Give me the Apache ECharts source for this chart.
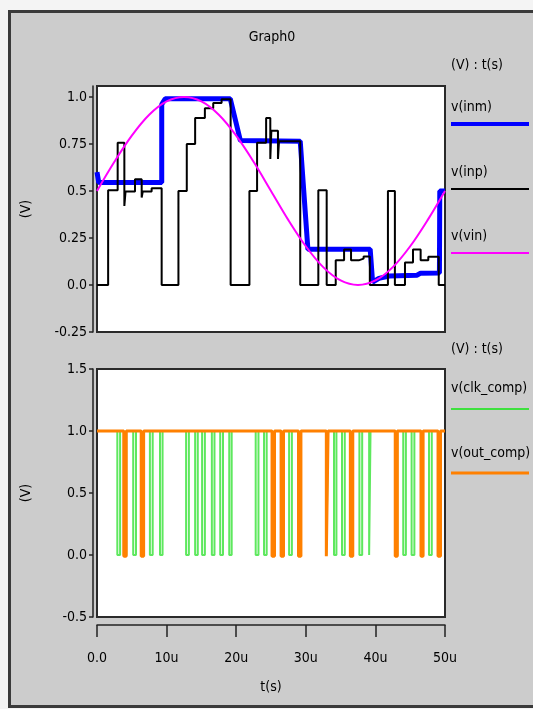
<!DOCTYPE html>
<html><head><meta charset="utf-8">
<script src="https://cdn.jsdelivr.net/npm/echarts@6/dist/echarts.min.js"></script>
<style>
html,body{margin:0;padding:0;background:#f4f4f4;overflow:hidden;width:533px;height:709px;}
#frame{position:absolute;left:8px;top:10px;width:540px;height:698px;background:#cccccc;border:3px solid #3a3a3a;box-sizing:border-box;}
#c{position:absolute;left:0;top:0;width:533px;height:709px;}
</style>
</head><body><div id="frame"></div><div id="c"></div>
<script>
// ---- data (time in microseconds) ----
const xTickValues = [0, 10, 20, 30, 40, 50];
const xTickLabels = ['0.0', '10u', '20u', '30u', '40u', '50u'];
const topYTickValues = [-0.25, 0, 0.25, 0.5, 0.75, 1.0];
const topYTickLabels = ['-0.25', '0.0', '0.25', '0.5', '0.75', '1.0'];
const botYTickValues = [-0.5, 0, 0.5, 1.0, 1.5];
const botYTickLabels = ['-0.5', '0.0', '0.5', '1.0', '1.5'];

// v(inm)
const inmT = [0, 0.25, 9.3, 9.3, 9.8, 19.15, 20.6, 29.2, 30.3, 39.25, 39.6, 40.5, 42, 46, 46.5, 49.2, 49.25, 50];
const inmV = [0.6, 0.545, 0.545, 0.96, 0.99, 0.99, 0.768, 0.764, 0.19, 0.19, 0.015, 0.035, 0.048, 0.052, 0.063, 0.064, 0.5, 0.5];

// v(inp)
const inpT = [0, 1.6, 1.6, 2.97, 2.97, 3.93, 3.93, 4.1, 4.1, 5.46, 5.46, 6.42, 6.42, 6.57, 6.57, 7.85, 7.85, 9.29, 9.29,
  11.7, 11.7, 12.9, 12.9, 14.1, 14.1, 15.5, 15.5, 16.7, 16.7, 17.9, 17.9, 19.2, 19.2,
  21.9, 21.9, 23.0, 23.0, 24.3, 24.3, 24.9, 24.9, 25.05, 25.05, 26.0, 26.0, 26.15, 26.15, 29.2, 29.2,
  31.8, 31.8, 33.0, 33.0, 34.3, 34.3, 35.5, 35.5, 36.5, 36.5, 37.6, 37.6, 38.3, 38.3, 39.2, 39.2,
  41.8, 41.8, 42.8, 42.8, 44.25, 44.25, 45.4, 45.4, 46.5, 46.5, 47.6, 47.6, 49.1, 49.1, 50];
const inpV = [0, 0, 0.504, 0.504, 0.756, 0.756, 0.42, 0.42, 0.497, 0.497, 0.562, 0.562, 0.465, 0.465, 0.497, 0.497, 0.514, 0.514, 0,
  0, 0.5, 0.5, 0.75, 0.75, 0.888, 0.888, 0.94, 0.94, 0.967, 0.967, 0.988, 0.988, 0,
  0, 0.5, 0.5, 0.756, 0.756, 0.888, 0.888, 0.67, 0.67, 0.82, 0.82, 0.67, 0.67, 0.764, 0.764, 0,
  0, 0.504, 0.504, 0, 0, 0.131, 0.131, 0.189, 0.189, 0.131, 0.131, 0.14, 0.14, 0.152, 0.152, 0,
  0, 0.5, 0.5, 0, 0, 0.12, 0.12, 0.189, 0.189, 0.131, 0.131, 0.15, 0.15, 0, 0];

// v(vin)
const vinT = [0, 2.5, 5, 7.5, 10, 12.5, 15, 17.5, 20, 22.5, 25, 27.5, 30, 32.5, 35, 37.5, 40, 42.5, 45, 47.5, 50];
const vinV = [0.5, 0.655, 0.794, 0.905, 0.976, 1.0, 0.976, 0.905, 0.794, 0.655, 0.5, 0.345, 0.206, 0.095, 0.024, 0.0, 0.024, 0.095, 0.206, 0.345, 0.5];

// v(clk_comp): pulse falling / rising edges
const clkFall = [2.92, 3.85, 5.2, 6.35, 7.6, 9.05, 12.8, 14.1, 15.1, 16.5, 17.7, 19.0, 22.8, 24.0, 25.15, 26.45, 27.6, 28.95, 32.95, 34.05, 35.2, 36.4, 37.7, 39.1, 42.85, 44.0, 45.2, 46.55, 47.7, 49.0];
const clkRise = [3.32, 4.2, 5.6, 6.7, 8.0, 9.42, 13.2, 14.48, 15.5, 16.88, 18.1, 19.35, 23.2, 24.38, 25.5, 26.8, 28.0, 29.3, 33.2, 34.4, 35.6, 36.75, 38.1, 39.3, 43.15, 44.38, 45.6, 46.85, 48.1, 49.35];
const clkHigh = 1.0, clkLow = 0.0;

// v(out_comp): pulse falling / rising edges
const outFall = [3.85, 6.35, 25.15, 26.45, 28.95, 32.95, 36.4, 42.85, 46.55, 49.0];
const outRise = [4.2, 6.7, 25.5, 26.8, 29.3, 33.2, 36.75, 43.15, 46.85, 49.35];
const outHigh = 1.0, outLow = -0.01;

// ---- build helpers ----
function pairs(t, v) { return t.map((x, i) => [x, v[i]]); }
function pulses(fall, rise, hi, lo) {
  const d = [[0, hi]];
  fall.forEach((f, i) => { d.push([f, hi], [f, lo], [rise[i], lo], [rise[i], hi]); });
  d.push([50, hi]);
  return d;
}
function lookup(vals, labels) {
  return v => { for (let i = 0; i < vals.length; i++) if (Math.abs(vals[i] - v) < 1e-6) return labels[i]; return ''; };
}

const FONT = "'Liberation Sans Narrow','DejaVu Sans Condensed','Arial Narrow',sans-serif";
const txt = { color: '#000', fontFamily: FONT, fontSize: 14 };

const chart = echarts.init(document.getElementById('c'), null, { renderer: 'canvas' });
chart.setOption({
  animation: false,
  backgroundColor: 'transparent',
  grid: [
    { left: 97, top: 86, width: 348, height: 246, show: true, backgroundColor: '#fff', borderColor: '#2a2a2a', borderWidth: 2 },
    { left: 97, top: 369, width: 348, height: 248, show: true, backgroundColor: '#fff', borderColor: '#2a2a2a', borderWidth: 2 }
  ],
  xAxis: [
    { type: 'value', gridIndex: 0, min: 0, max: 50, interval: 10, show: false },
    { type: 'value', gridIndex: 1, min: 0, max: 50, interval: 10, offset: 8, position: 'bottom',
      axisLine: { show: true, onZero: false, lineStyle: { color: '#222', width: 1.5 } },
      axisTick: { show: true, length: 12, lineStyle: { color: '#222', width: 1.5 } },
      axisLabel: { ...txt, margin: 26, formatter: lookup(xTickValues, xTickLabels) },
      splitLine: { show: false },
      name: 't(s)', nameLocation: 'middle', nameGap: 55, nameTextStyle: { ...txt } }
  ],
  yAxis: [
    { type: 'value', gridIndex: 0, min: -0.25, max: 1.058, interval: 0.25, offset: 4,
      axisLine: { show: true, onZero: false, lineStyle: { color: '#222', width: 1.5 } },
      axisTick: { show: true, length: 4, lineStyle: { color: '#222', width: 1.5 } },
      axisLabel: { ...txt, margin: 6, showMaxLabel: false, formatter: lookup(topYTickValues, topYTickLabels) },
      splitLine: { show: false },
      name: '(V)', nameLocation: 'middle', nameGap: 60, nameRotate: 90, nameTextStyle: { ...txt } },
    { type: 'value', gridIndex: 1, min: -0.5, max: 1.5, interval: 0.5, offset: 4,
      axisLine: { show: true, onZero: false, lineStyle: { color: '#222', width: 1.5 } },
      axisTick: { show: true, length: 4, lineStyle: { color: '#222', width: 1.5 } },
      axisLabel: { ...txt, margin: 6, formatter: lookup(botYTickValues, botYTickLabels) },
      splitLine: { show: false },
      name: '(V)', nameLocation: 'middle', nameGap: 60, nameRotate: 90, nameTextStyle: { ...txt } }
  ],
  series: [
    { name: 'v(inm)', type: 'line', xAxisIndex: 0, yAxisIndex: 0, data: pairs(inmT, inmV), showSymbol: false,
      lineStyle: { color: '#0000ff', width: 5 }, z: 2 },
    { name: 'v(inp)', type: 'line', xAxisIndex: 0, yAxisIndex: 0, data: pairs(inpT, inpV), showSymbol: false,
      lineStyle: { color: '#000000', width: 2 }, z: 3 },
    { name: 'v(vin)', type: 'line', xAxisIndex: 0, yAxisIndex: 0, data: pairs(vinT, vinV), showSymbol: false, smooth: 0.35,
      lineStyle: { color: '#ff00ff', width: 2 }, z: 4 },
    { name: 'v(clk_comp)', type: 'line', xAxisIndex: 1, yAxisIndex: 1, data: pulses(clkFall, clkRise, clkHigh, clkLow), showSymbol: false,
      lineStyle: { color: '#5ee85e', width: 2 }, z: 2 },
    { name: 'v(out_comp)', type: 'line', xAxisIndex: 1, yAxisIndex: 1, data: pulses(outFall, outRise, outHigh, outLow), showSymbol: false,
      lineStyle: { color: '#ff8000', width: 3 }, z: 3 }
  ],
  graphic: [
    { type: 'text', x: 272, y: 37, style: { text: 'Graph0', font: '14px ' + FONT, fill: '#000', align: 'center', verticalAlign: 'middle' } },
    { type: 'text', x: 451, y: 65, style: { text: '(V) : t(s)', font: '14px ' + FONT, fill: '#000', verticalAlign: 'middle' } },
    { type: 'text', x: 451, y: 107, style: { text: 'v(inm)', font: '14px ' + FONT, fill: '#000', verticalAlign: 'middle' } },
    { type: 'line', shape: { x1: 451, y1: 124, x2: 529, y2: 124 }, style: { stroke: '#0000ff', lineWidth: 4 } },
    { type: 'text', x: 451, y: 172, style: { text: 'v(inp)', font: '14px ' + FONT, fill: '#000', verticalAlign: 'middle' } },
    { type: 'line', shape: { x1: 451, y1: 189, x2: 529, y2: 189 }, style: { stroke: '#000000', lineWidth: 2 } },
    { type: 'text', x: 451, y: 236, style: { text: 'v(vin)', font: '14px ' + FONT, fill: '#000', verticalAlign: 'middle' } },
    { type: 'line', shape: { x1: 451, y1: 253, x2: 529, y2: 253 }, style: { stroke: '#ff00ff', lineWidth: 2 } },
    { type: 'text', x: 451, y: 349, style: { text: '(V) : t(s)', font: '14px ' + FONT, fill: '#000', verticalAlign: 'middle' } },
    { type: 'text', x: 451, y: 388, style: { text: 'v(clk_comp)', font: '14px ' + FONT, fill: '#000', verticalAlign: 'middle' } },
    { type: 'line', shape: { x1: 451, y1: 409, x2: 529, y2: 409 }, style: { stroke: '#3ee03e', lineWidth: 2 } },
    { type: 'text', x: 451, y: 453, style: { text: 'v(out_comp)', font: '14px ' + FONT, fill: '#000', verticalAlign: 'middle' } },
    { type: 'line', shape: { x1: 451, y1: 473, x2: 529, y2: 473 }, style: { stroke: '#ff8000', lineWidth: 3 } }
  ]
});
</script>
</body></html>
